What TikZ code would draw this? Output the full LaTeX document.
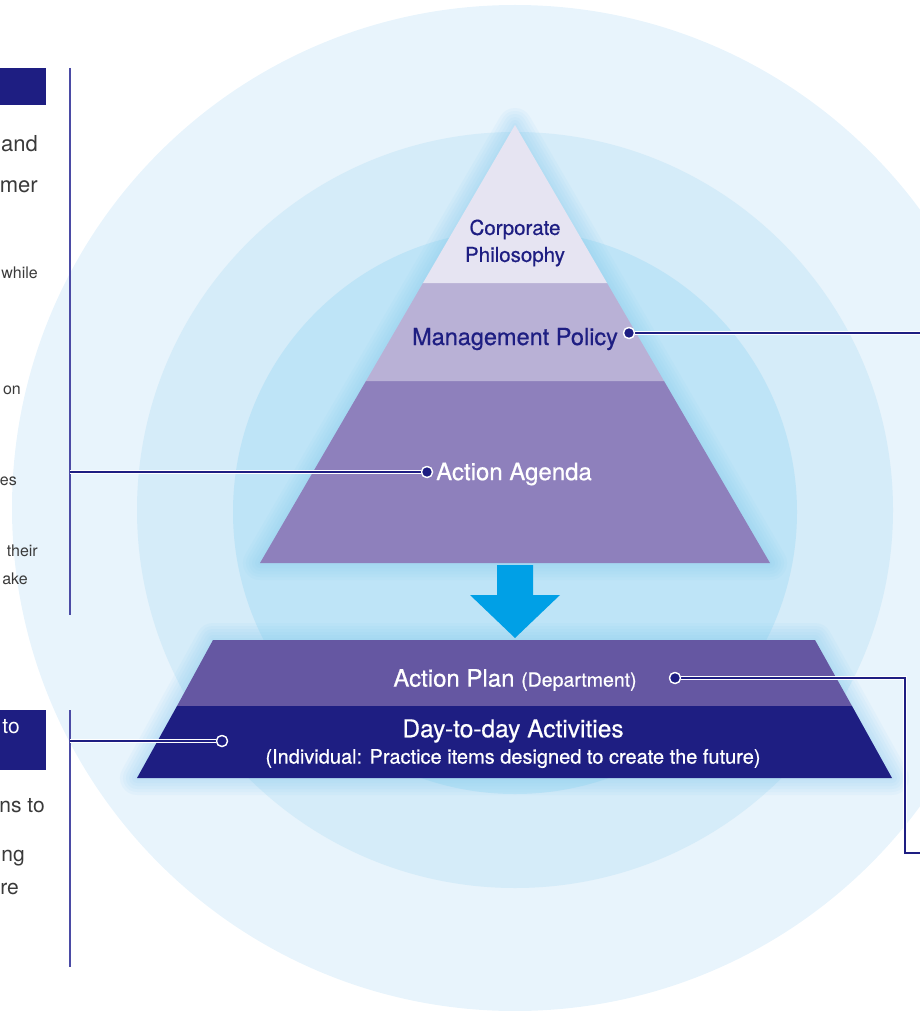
\documentclass[tikz,border=0pt]{standalone}
\usepackage{fontspec}
\setmainfont{TeX Gyre Heros}
\newfontfamily\medfont[FakeBold=0.6]{TeX Gyre Heros}
\usetikzlibrary{positioning}
\definecolor{navy}{HTML}{1E1E82}
\definecolor{ringA}{HTML}{E8F4FC}
\definecolor{ringB}{HTML}{D5ECF9}
\definecolor{ringC}{HTML}{BEE4F7}
\definecolor{glowblue}{HTML}{7EC8EE}
\definecolor{tierA}{HTML}{E6E4F2}
\definecolor{tierB}{HTML}{B9B1D6}
\definecolor{tierC}{HTML}{8E80BC}
\definecolor{planfill}{HTML}{6557A2}
\definecolor{arrowblue}{HTML}{00A0E6}
\definecolor{rulecol}{HTML}{4B4BA5}
\definecolor{textgray}{HTML}{3A3A3A}
\tikzset{
  dot/.style={circle,fill=navy,draw=white,line width=1.3pt,inner sep=0pt,minimum size=11pt},
  link/.style={draw=white,double=navy,double distance=1.5pt,line width=0.8pt},
  rule/.style={draw=rulecol,line width=1.8pt},
  glow/.style={draw=glowblue,opacity=0.07,line join=round},
  frag/.style={anchor=base east,text=textgray,inner sep=0pt},
  tiertext/.style={text=navy,align=center,inner sep=0pt},
  whitetext/.style={text=white,align=center,inner sep=0pt}
}
\begin{document}
\begin{tikzpicture}[x=1pt,y=-1pt]
    \useasboundingbox (0,0) rectangle (920,1011);
    \begin{scope}
        \clip (0,0) rectangle (920,1011);
        \fill[ringA] (515,508) circle (503pt);
        \fill[ringB] (515,510) circle (378pt);
        \fill[ringC] (515,512) circle (282pt);
    \end{scope}

    \foreach \w in {34,28,...,4}
        \draw[glow,line width=\w pt] (515,125) -- (770,563) -- (260,563) -- cycle;
    \foreach \w in {34,28,...,4}
        \draw[glow,line width=\w pt] (213,640) -- (815,640) -- (892,778) -- (137,778) -- cycle;

    \fill[tierC] (366,381) -- (664,381) -- (770,563) -- (260,563) -- cycle;
    \fill[tierB] (423,283) -- (607,283) -- (664,381) -- (366,381) -- cycle;
    \fill[tierA] (515,125) -- (607,283) -- (423,283) -- cycle;
    \fill[arrowblue] (497,565) -- (533,565) -- (533,595) -- (560,595) -- (515,638) -- (470,595) -- (497,595) -- cycle;
    \fill[planfill] (213,640) -- (815,640) -- (852,706) -- (177,706) -- cycle;
    \fill[navy] (177,706) -- (852,706) -- (892,778) -- (137,778) -- cycle;

    \node[tiertext,font=\medfont\fontsize{20.5}{27}\selectfont] (philosophy) at (515,243) {Corporate\\Philosophy};
    \node[tiertext,font=\medfont\fontsize{23.5}{27}\selectfont] (policy) at (515,339) {Management Policy};
    \node[whitetext,anchor=west,font=\medfont\fontsize{24}{27}\selectfont] (agenda) at (436,474) {Action Agenda};
    \node[whitetext,font=\medfont\fontsize{24}{27}\selectfont] (plan) at (515,680) {Action Plan {\fontsize{19.5}{20}\selectfont(Department)}};
    \node[whitetext,font=\medfont\fontsize{24.5}{27}\selectfont] (daily) at (513,731) {Day-to-day Activities};
    \node[whitetext,font=\medfont\fontsize{20}{20}\selectfont,below=6pt of daily] (individual) {(Individual: Practice items designed to create the future)};

    \fill[navy] (0,68) rectangle (46,105);
    \fill[navy] (0,710) rectangle (46,770);
    \node[frag,font=\fontsize{22}{26}\selectfont] (f1) at (38,152) {and};
    \node[frag,font=\fontsize{22}{26}\selectfont] (f2) at (38,193) {mer};
    \node[frag,font=\fontsize{16}{20}\selectfont] (f3) at (38,278) {while};
    \node[frag,font=\fontsize{16}{20}\selectfont] (f4) at (21,394) {on};
    \node[frag,font=\fontsize{16}{20}\selectfont] (f5) at (17,485) {es};
    \node[frag,font=\fontsize{16}{20}\selectfont] (f6) at (38,556) {their};
    \node[frag,font=\fontsize{16}{20}\selectfont] (f7) at (28,584) {ake};
    \node[frag,text=white,font=\fontsize{21}{26}\selectfont] (f8) at (20,733) {to};
    \node[frag,font=\fontsize{21}{26}\selectfont] (f9) at (45,812) {ns to};
    \node[frag,font=\fontsize{21}{26}\selectfont] (f10) at (25,861) {ng};
    \node[frag,font=\fontsize{21}{26}\selectfont] (f11) at (19,894) {re};

    \draw[rule] (70,68) -- (70,615);
    \draw[rule] (70,710) -- (70,967);

    \node[dot] (policydot) at (629,333) {};
    \node[dot] (agendadot) at (427,472) {};
    \node[dot] (plandot) at (675,678) {};
    \node[dot] (dailydot) at (222,741) {};
    \coordinate (policyend) at (920,333);
    \coordinate (agendaend) at (70,472);
    \coordinate (planbend) at (905,853);
    \coordinate (planend) at (920,853);
    \coordinate (dailyend) at (70,741);

    \draw[link] (policydot) -- (policyend);
    \draw[link] (agendadot) -- (agendaend);
    \draw[link] (plandot) -| (planbend) -- (planend);
    \draw[link] (dailydot) -- (dailyend);
    \node[dot] at (policydot) {};
    \node[dot] at (agendadot) {};
    \node[dot] at (plandot) {};
    \node[dot] at (dailydot) {};
\end{tikzpicture}
\end{document}
